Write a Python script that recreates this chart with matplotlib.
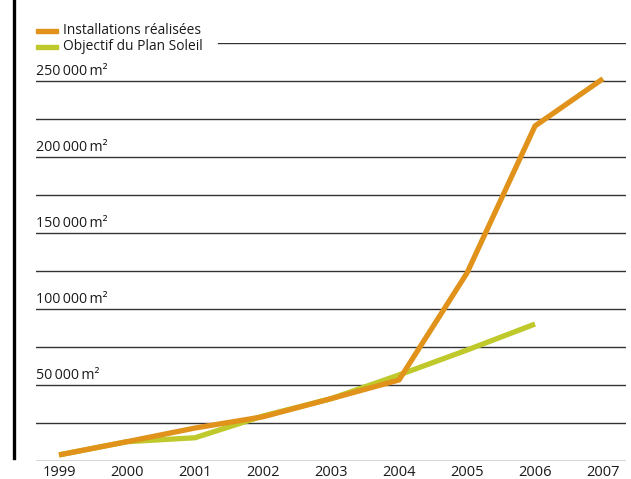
import matplotlib
matplotlib.use("Agg")
import matplotlib.pyplot as plt
from matplotlib.lines import Line2D
from matplotlib.patches import Rectangle
import matplotlib.transforms as mtransforms

plt.rcParams['font.family'] = ['Open Sans', 'DejaVu Sans']

years = [1999, 2000, 2001, 2002, 2003, 2004, 2005, 2006, 2007]
installations = [4000, 12700, 21700, 29100, 41000, 53300, 123700, 220400, 251500]
objectif_years = [1999, 2000, 2001, 2002, 2003, 2004, 2005, 2006]
objectif = [4000, 12700, 15300, 29600, 41000, 56600, 73000, 90100]
labelled = [50000, 100000, 150000, 200000, 250000]
grid_levels = [25000 * i for i in range(12)]

orange = '#e0921b'
green = '#bfc92b'

fig = plt.figure(figsize=(6.31, 4.79), dpi=100)
W, H = 631, 479
x0, x1 = 36, 626
y0, y1 = 461, 43
ax = fig.add_axes([x0 / W, 1 - y0 / H, (x1 - x0) / W, (y0 - y1) / H])
ax.set_xlim(1999 - 23 / 68, 2007 + 23 / 68)
ax.set_ylim(0, 275000)

for lv in grid_levels:
    if lv == 275000:
        ax.axhline(lv, xmin=(218 - x0) / (x1 - x0), xmax=1, color='#333333', lw=1.0, zorder=1)
    else:
        ax.axhline(lv, color='#333333', lw=1.0, zorder=1)

ax.plot(objectif_years, objectif, color=green, lw=3.8, solid_capstyle='butt', zorder=3)
ax.plot(years, installations, color=orange, lw=3.8, solid_capstyle='butt', zorder=4)

trans = mtransforms.blended_transform_factory(ax.transAxes, ax.transData)
off = mtransforms.offset_copy(trans, fig=fig, y=2, units='dots')
for v in labelled:
    s = f"{v:,}".replace(',', '\u2009') + '\u2009m²'
    ax.text(0, v, s, transform=off, ha='left', va='bottom', fontsize=10.2, color='#1a1a1a')

for sp in ax.spines.values():
    sp.set_visible(False)
ax.set_yticks([])
ax.set_xticks(years)
ax.set_xticklabels([str(y) for y in years], fontsize=10.5, color='#1a1a1a')
ax.tick_params(axis='x', length=0, pad=3)

# left black rule
fig.add_artist(Line2D([14 / W, 14 / W], [1 - 458 / H, 1], color='black', lw=2.4))

# legend
for i, (lab, col) in enumerate([("Installations réalisées", orange), ("Objectif du Plan Soleil", green)]):
    yc = 31 + 16 * i
    fig.add_artist(Rectangle((36 / W, 1 - (yc + 2) / H), 22 / W, 4 / H, color=col, transform=fig.transFigure))
    fig.text(63 / W, 1 - yc / H, lab, ha='left', va='center', fontsize=9.9, color='#1a1a1a')

fig.savefig('out.png', dpi=100)
